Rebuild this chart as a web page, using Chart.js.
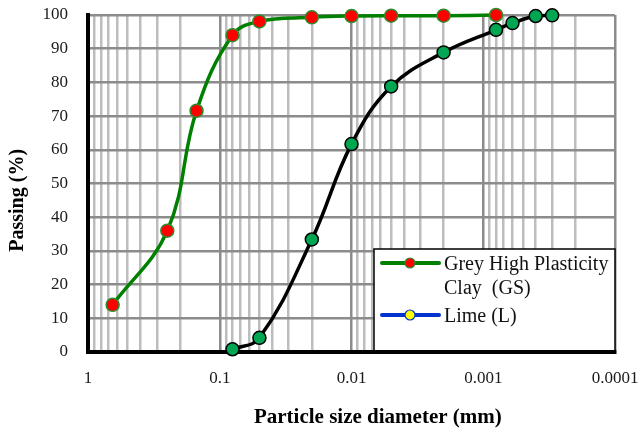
<!DOCTYPE html>
<html>
<head>
<meta charset="utf-8">
<script src="https://cdn.jsdelivr.net/npm/chart.js@4/dist/chart.umd.min.js"></script>
<style>
  html, body { margin: 0; padding: 0; background: #fff; }
  #wrap { width: 641px; height: 429px; }
</style>
</head>
<body>
<div id="wrap"><canvas id="gradingChart" width="641" height="429"></canvas></div>
<script>
// Grain size distribution data (size in mm, passing in %)
const gsSize = [0.65, 0.25, 0.15, 0.08, 0.05, 0.02, 0.01, 0.005, 0.002, 0.0008];
const gsPassing = [14, 36, 71.6, 94, 98.1, 99.3, 99.7, 99.8, 99.8, 100];

const limeSize = [0.08, 0.05, 0.02, 0.01, 0.005, 0.002, 0.0008, 0.0006, 0.0004, 0.0003];
const limePassing = [0.8, 4.2, 33.4, 61.7, 78.8, 88.9, 95.6, 97.6, 99.7, 99.9];

const decadeTicks = [1, 0.1, 0.01, 0.001, 0.0001];
const yTicks = [0, 10, 20, 30, 40, 50, 60, 70, 80, 90, 100];

const xTitle = "Particle size diameter (mm)";
const yTitle = "Passing (%)";
const legendItems = [
  { lines: ["Grey High Plasticity", "Clay  (GS)"], line: "#008000", fill: "#ff0000", edge: "#2e8b2e" },
  { lines: ["Lime (L)"], line: "#0033cc", fill: "#ffff00", edge: "#0033cc" },
];

const serif = '"Liberation Serif", "Times New Roman", serif';

function toPoints(xs, ys) {
  return xs.map((x, i) => ({ x: x, y: ys[i] }));
}

// Log grid: decades plus 2..9 subdivisions
function logGridTicks() {
  const ticks = [];
  for (let i = 0; i < decadeTicks.length - 1; i++) {
    const lo = decadeTicks[i + 1];
    ticks.push({ value: lo, major: true });
    for (let k = 2; k <= 9; k++) {
      ticks.push({ value: +(lo * k).toPrecision(6), major: false });
    }
  }
  ticks.push({ value: decadeTicks[0], major: true });
  return ticks;
}

// Axis titles and the boxed legend
const overlay = {
  id: "overlay",
  afterDraw(chart) {
    const ctx = chart.ctx;
    const a = chart.chartArea;
    ctx.save();

    ctx.fillStyle = "#000";
    ctx.font = "bold 21px " + serif;
    ctx.textAlign = "center";
    ctx.textBaseline = "alphabetic";
    ctx.fillText(xTitle, a.left + a.width * 0.55, 423);

    ctx.font = "bold 20px " + serif;
    ctx.save();
    ctx.translate(23, a.top + a.height * 0.55);
    ctx.rotate(-Math.PI / 2);
    ctx.fillText(yTitle, 0, 0);
    ctx.restore();

    // legend box
    const bx = a.right - 241;
    const by = a.top + 234;
    ctx.fillStyle = "#fff";
    ctx.fillRect(bx, by, a.right - bx, a.bottom - by - 2);
    ctx.strokeStyle = "#000";
    ctx.lineWidth = 1.5;
    ctx.strokeRect(bx, by, a.right - bx, a.bottom - by);

    ctx.font = "20px " + serif;
    ctx.textAlign = "left";
    let ty = by + 21;
    legendItems.forEach((item) => {
      const ly = ty - 7;
      ctx.strokeStyle = item.line;
      ctx.lineWidth = 4;
      ctx.lineCap = "round";
      ctx.beginPath();
      ctx.moveTo(bx + 8, ly);
      ctx.lineTo(bx + 65, ly);
      ctx.stroke();
      ctx.beginPath();
      ctx.arc(bx + 36, ly, 5, 0, Math.PI * 2);
      ctx.fillStyle = item.fill;
      ctx.fill();
      ctx.lineWidth = 1.2;
      ctx.strokeStyle = item.edge;
      ctx.stroke();
      ctx.fillStyle = "#111";
      item.lines.forEach((t) => {
        ctx.fillText(t, bx + 70, ty);
        ty += 24;
      });
      ty += 4;
    });

    ctx.restore();
  },
};

const ctx = document.getElementById("gradingChart");
new Chart(ctx, {
  type: "line",
  data: {
    datasets: [
      {
        label: "Grey High Plasticity Clay  (GS)",
        data: toPoints(gsSize, gsPassing),
        borderColor: "#008000",
        borderWidth: 3.5,
        pointRadius: 6.5,
        pointBackgroundColor: "#ff0000",
        pointBorderColor: "#2e8b2e",
        pointBorderWidth: 1.5,
        tension: 0.4,
        clip: false,
      },
      {
        label: "Lime (L)",
        data: toPoints(limeSize, limePassing),
        borderColor: "#000000",
        borderWidth: 3.5,
        pointRadius: 6.5,
        pointBackgroundColor: "#00a651",
        pointBorderColor: "#000000",
        pointBorderWidth: 1.5,
        tension: 0.4,
        clip: false,
      },
    ],
  },
  options: {
    responsive: false,
    animation: false,
    layout: { padding: { top: 15, right: 26, left: 0, bottom: 0 } },
    plugins: {
      legend: { display: false },
      tooltip: { enabled: false },
    },
    scales: {
      x: {
        type: "logarithmic",
        reverse: true,
        min: decadeTicks[decadeTicks.length - 1],
        max: decadeTicks[0],
        afterBuildTicks: (scale) => {
          scale.ticks = logGridTicks();
        },
        afterFit: (scale) => {
          scale.height = 77;
          scale.paddingLeft = 0;
          scale.paddingRight = 0;
        },
        ticks: {
          autoSkip: false,
          maxRotation: 0,
          padding: 16,
          color: "#1a1a1a",
          font: { family: serif, size: 17 },
          callback: (v) => {
            const i = decadeTicks.findIndex((d) => Math.abs(d - v) / d < 1e-6);
            return i >= 0 ? String(decadeTicks[i]) : "";
          },
        },
        grid: {
          drawTicks: false,
          color: (c) => (c.tick && c.tick.major ? "#8c8c8c" : "#bdbdbd"),
          lineWidth: 2.5,
        },
        border: { color: "#000", width: 4 },
      },
      y: {
        min: yTicks[0],
        max: yTicks[yTicks.length - 1],
        afterBuildTicks: (scale) => {
          scale.ticks = yTicks.map((v) => ({ value: v }));
        },
        afterFit: (scale) => {
          scale.width = 88;
          scale.paddingTop = 0;
          scale.paddingBottom = 0;
        },
        ticks: {
          padding: 20,
          color: "#1a1a1a",
          font: { family: serif, size: 17 },
        },
        grid: {
          drawTicks: false,
          color: "#8c8c8c",
          lineWidth: 2.5,
        },
        border: { color: "#000", width: 4 },
      },
    },
  },
  plugins: [overlay],
});
</script>
</body>
</html>
